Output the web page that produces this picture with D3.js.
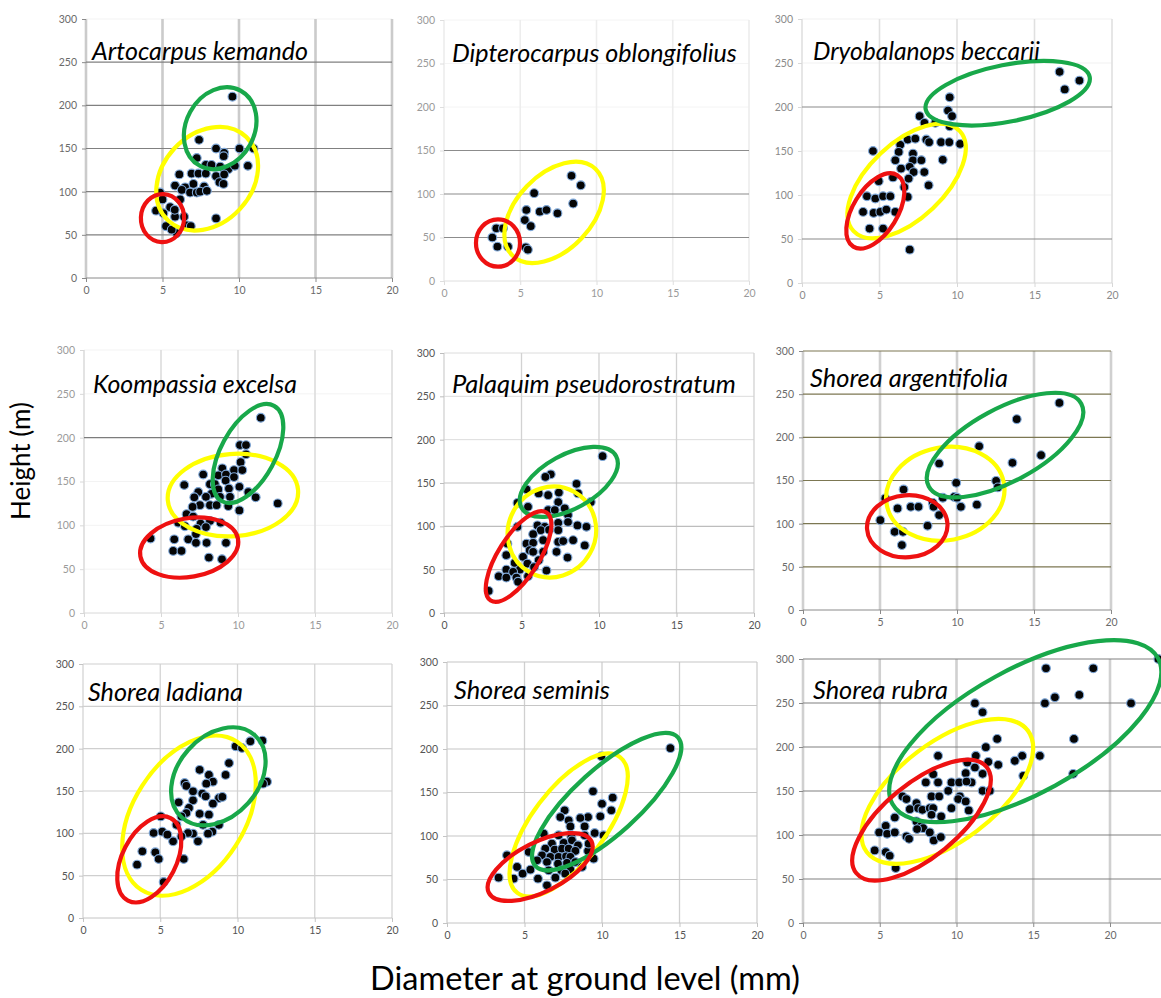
<!DOCTYPE html>
<html><head><meta charset="utf-8">
<script src="https://cdn.jsdelivr.net/npm/d3@7"></script>
<style>body{margin:0;background:#fff}svg{display:block}</style>
</head><body><svg id="c" width="1161" height="998"></svg>
<script>
// ---------- DATA ----------
const xTicks = [0, 5, 10, 15, 20];
const yTicks = [0, 50, 100, 150, 200, 250, 300];
const speciesNames = ["Artocarpus kemando","Dipterocarpus oblongifolius","Dryobalanops beccarii",
  "Koompassia excelsa","Palaquim pseudorostratum","Shorea argentifolia",
  "Shorea ladiana","Shorea seminis","Shorea rubra"];
const yAxisLabel = "Height (m)";
const xAxisLabel = "Diameter at ground level (mm)";

// diameter (mm), height pairs per species
const artocarpus = [[9.57,210],[7.39,160],[8.5,150],[10.03,150],[10.95,150],[9.03,145],[9.0,141],[7.24,139],[7.83,131],[8.2,131],[8.77,129],[9.3,126],[9.73,130],[10.58,130],[6.1,120],[6.9,121],[7.35,121],[7.83,121],[8.5,118],[9.03,120],[8.72,111],[8.99,109],[7.02,109],[5.82,107],[6.48,105],[7.72,106],[6.26,102],[6.8,99],[7.24,99],[7.46,100],[7.9,101],[4.84,99],[5.0,91],[6.15,91],[4.58,78],[5.5,82],[5.82,71],[6.41,71],[8.5,69],[5.23,60],[6.59,61],[6.85,60],[5.93,52],[5.6,56],[5.06,75],[5.8,79]];
const dipterocarpus = [[8.36,121],[8.97,110],[5.91,101],[5.4,81.6],[6.28,79.7],[6.72,81.6],[7.44,77.8],[8.47,89],[5.3,70],[5.69,63],[3.43,60.5],[3.87,60.5],[3.17,50],[3.5,39.5],[4.2,39.5],[5.36,38.7],[5.5,36]];
const dryobalanops = [[16.62,240],[17.9,230],[16.95,220],[9.53,211],[9.42,196],[9.68,189.6],[7.59,189.6],[7.9,182],[8.6,182],[9.53,178],[6.82,163],[7.31,164],[8.02,163],[8.2,160],[8.97,160],[9.5,160],[10.2,158],[6.34,157],[6.24,149],[7.16,147],[4.58,150],[7.16,139.5],[7.7,139.5],[6.02,139.5],[9.08,140],[6.39,130],[6.95,132],[7.2,126],[7.89,126],[6.88,118.7],[5.87,120],[4.95,115.7],[8.17,111],[6.6,109],[4.19,98.6],[4.73,96],[5.23,98.6],[5.7,98.6],[6.82,97.8],[3.94,80.8],[4.62,79.6],[5.05,80.8],[5.44,83.4],[6.02,80.8],[4.36,61.8],[5.23,61.8],[6.95,37.9]];
const koompassia = [[11.48,222.7],[10.13,191.5],[10.52,191.5],[10.52,181],[10.17,172],[9.74,163],[10.28,163],[8.98,165],[7.74,158],[8.72,157],[9.22,158],[9.74,155],[9.2,151],[8.18,147],[8.5,147],[8.72,141],[10.09,144],[6.51,146],[9.41,142],[7.42,138],[8.28,136],[10.67,138],[7.16,132],[7.92,132.5],[8.83,132.5],[9.48,132.5],[11.15,132],[12.58,125],[7.53,123],[8.18,123],[8.61,123],[9.37,122],[10.09,117],[7.05,121],[6.66,112.7],[7.09,110],[6.12,103],[6.55,99],[7.57,102],[8.18,105],[8.87,103],[7.31,96],[7.92,98],[4.32,85],[5.86,84],[6.77,84],[7.27,90],[7.27,80],[7.96,80],[9.22,80],[5.79,70.8],[6.33,70.8],[8.11,63.2],[8.96,61.3]];
const palaquim = [[10.23,181],[6.89,160],[6.54,157],[8.55,149],[8.65,138],[9.47,128],[5.32,142.7],[6.11,138],[6.72,136],[7.41,139],[7.37,128],[4.74,127],[5.42,122.6],[6.72,118.8],[7.15,118.8],[7.79,120.7],[8.0,113],[8.0,105],[8.61,101],[9.19,99.5],[7.37,104],[7.37,95.6],[6.03,101],[6.5,99.5],[6.24,95.6],[4.74,99.5],[5.75,91],[6.4,84],[7.37,82],[7.69,83],[8.33,84],[9.08,78],[5.32,80],[5.75,81],[4.09,80],[5.53,72.5],[5.75,70.6],[6.4,70.6],[7.26,70.6],[7.97,64],[4.02,66.7],[5.1,64.8],[6.11,61],[4.56,57.8],[5.38,57],[5.81,53],[4.02,50],[4.89,50],[4.46,47.4],[3.53,42.4],[4.02,40.9],[4.67,40.9],[5.42,42.4],[4.78,36],[2.88,25.5],[6.61,49],[6.78,96]];
const argentifolia = [[16.65,239.9],[13.88,221],[11.44,189.7],[15.46,179.3],[13.6,170.5],[8.84,169.7],[9.95,147.3],[12.54,149.6],[12.65,142],[6.53,139.6],[5.34,129.2],[9.08,130],[9.82,131],[10.0,130],[11.29,122],[10.25,119.6],[8.43,124],[8.48,119.6],[7.0,119.6],[7.5,119.6],[6.14,117.6],[8.84,110],[5.02,104],[8.09,97.6],[5.95,90.6],[6.49,90.6],[6.42,75.2]];
const ladiana = [[11.61,209.4],[10.83,208.7],[9.88,202.8],[10.29,200.8],[9.45,183],[7.55,175],[8.15,169],[9.23,169],[8.41,161],[7.98,158.7],[6.58,159.4],[6.69,156],[11.91,161],[11.65,158.7],[7.12,149.6],[7.72,146.9],[7.94,143.7],[8.8,141.7],[9.02,143],[6.19,136.6],[7.12,139],[8.41,135],[6.86,130],[6.69,124],[7.55,123],[8.15,122],[6.37,120],[7.77,110],[6.05,110],[8.8,110],[8.37,102],[8.09,99.6],[7.12,99.6],[6.79,100.4],[6.37,96.5],[5.83,90.6],[7.44,90.6],[5.03,120],[5.13,102],[4.57,100.4],[5.46,98.4],[3.84,78.7],[4.68,77.6],[4.9,69.7],[3.5,63],[6.52,69.7],[5.22,42.5]];
const seminis = [[14.41,201],[9.96,191.6],[9.42,151.3],[10.69,144],[10.0,137],[10.6,129.5],[7.59,129.5],[9.89,122.6],[9.1,121.8],[7.31,121.8],[8.6,120.7],[7.85,118],[8.88,111],[7.96,111],[9.53,103.4],[10.1,100.8],[6.24,102.7],[7.2,100.8],[8.02,98.9],[8.88,100.8],[6.77,91.2],[7.53,92],[8.06,95],[8.45,89.3],[6.34,85.4],[6.95,84.3],[7.42,85.4],[7.85,85.4],[8.28,82.8],[9.1,82.8],[5.27,81.6],[3.87,77.8],[6.13,77.8],[6.67,75.9],[7.2,75.9],[7.68,76.6],[7.96,75.9],[9.46,73.9],[5.81,72],[6.45,70.1],[7.16,68.2],[7.74,69],[8.28,70.1],[4.52,64.4],[4.88,56.7],[5.38,61.3],[6.56,60.5],[7.38,60.5],[7.96,61.3],[4.3,51],[5.87,51],[6.99,52.1],[3.33,52.1],[6.45,43.3],[7.63,56.7],[8.71,64.4],[9.14,91.2]];
const rubra = [[23.15,300],[15.83,289.4],[18.91,289.4],[16.41,256.5],[18.0,259.2],[15.76,249.7],[21.37,249.7],[11.2,249.7],[11.7,239.5],[17.65,209.2],[12.65,209.2],[11.91,199.8],[8.8,190],[11.26,190],[14.28,190],[15.43,190],[13.8,184.3],[12.07,183.1],[10.7,182.4],[12.72,179.7],[11.2,176.7],[17.6,169.5],[14.35,167.2],[11.7,169.5],[8.48,169.1],[10.6,170.3],[8.0,159.7],[8.8,159.7],[9.67,159.7],[10.17,159.7],[10.98,159.7],[10.65,160.8],[11.7,150.2],[12.17,150.2],[9.46,150.2],[6.48,143.8],[6.74,140.8],[8.37,143.8],[8.87,143.8],[10.22,143.8],[10.11,140.8],[10.6,138.1],[7.39,136.2],[6.96,129.4],[7.5,130.5],[7.78,128.6],[8.26,130.5],[8.48,130.5],[9.67,130.5],[10.8,127.9],[9.0,121.1],[8.37,123],[5.98,119.9],[7.39,115.4],[7.67,109.7],[7.83,107.8],[7.43,106.7],[5.39,110.5],[4.96,102.9],[5.48,101.4],[5.98,102.9],[6.74,98.4],[6.91,95.7],[8.26,102.9],[8.52,93.8],[8.98,97.6],[4.67,82.5],[5.39,80.6],[5.65,76.4],[6.04,62.4]];

// size-class ellipses: centre [d,h], end of major axis [d,h], minor/major ratio
const artocarpusClasses = [{cls:"small",c:[5.0,69.4],tip:[5.06,97.2],ratio:0.9},{cls:"medium",c:[7.92,115],tip:[10.47,163.5],ratio:0.78},{cls:"large",c:[8.77,173.5],tip:[10.1,217],ratio:0.8}];
const dipterocarpusClasses = [{cls:"small",c:[3.54,43.7],tip:[3.54,70.9],ratio:0.93},{cls:"medium",c:[7.22,78.9],tip:[9.94,128.7],ratio:0.63}];
const dryobalanopsClasses = [{cls:"small",c:[4.73,81.9],tip:[6.15,122.5],ratio:0.53},{cls:"medium",c:[6.75,115.9],tip:[10.17,172.9],ratio:0.52},{cls:"large",c:[13.27,215.7],tip:[18.56,234.2],ratio:0.34}];
const koompassiaClasses = [{cls:"small",c:[6.83,74.6],tip:[10.0,84.5],ratio:0.59},{cls:"medium",c:[9.67,134.5],tip:[13.9,140.2],ratio:0.63},{cls:"large",c:[10.65,181.9],tip:[12.34,236.3],ratio:0.5}];
const palaquimClasses = [{cls:"small",c:[4.81,65.2],tip:[6.61,116],ratio:0.39},{cls:"medium",c:[6.96,93.5],tip:[8.41,139.8],ratio:0.95},{cls:"large",c:[8.05,151.3],tip:[11.1,181.1],ratio:0.5}];
const argentifoliaClasses = [{cls:"small",c:[6.77,97],tip:[9.38,100.3],ratio:0.77},{cls:"medium",c:[9.24,134.6],tip:[13.04,147.5],ratio:0.78},{cls:"large",c:[13.12,191],tip:[18.07,238.9],ratio:0.42}];
const ladianaClasses = [{cls:"small",c:[4.29,69.3],tip:[5.67,118],ratio:0.58},{cls:"medium",c:[6.86,120.9],tip:[9.95,208.5],ratio:0.63},{cls:"large",c:[8.76,167.3],tip:[11.12,215.9],ratio:0.73}];
const seminisClasses = [{cls:"small",c:[6.01,64.4],tip:[9.32,94],ratio:0.43},{cls:"medium",c:[7.85,112.6],tip:[11.16,190.6],ratio:0.43},{cls:"large",c:[10.3,139.5],tip:[14.9,213.4],ratio:0.34}];
const rubraClasses = [{cls:"small",c:[7.72,116.9],tip:[11.96,177.3],ratio:0.44},{cls:"medium",c:[9.4,149.6],tip:[14.65,218.6],ratio:0.49},{cls:"large",c:[14.48,218],tip:[23.13,300.9],ratio:0.41}];

const pointSets = [artocarpus,dipterocarpus,dryobalanops,koompassia,palaquim,argentifolia,ladiana,seminis,rubra];
const classSets = [artocarpusClasses,dipterocarpusClasses,dryobalanopsClasses,koompassiaClasses,palaquimClasses,argentifoliaClasses,ladianaClasses,seminisClasses,rubraClasses];

// ---------- LAYOUT / STYLE ----------
const classColor = {small:"#ee1111", medium:"#ffff00", large:"#18a84a"};
const panels = [
 {x0:86,x20:392,y0:278,y300:19,xMax:20,tx:92,ty:60,tw:216,vg:"#cbcbcb",vw:2.6,hg:"#808080",hv:[50,100,150,200,250],hf:"#f3f3f3",ax:"#8a8a8a",lc:"#6a6a6a"},
 {x0:444,x20:749,y0:281,y300:20,xMax:20,tx:452,ty:62,tw:285,vg:"#ededed",vw:1.6,hg:"#8c8c8c",hv:[50,100,150],hf:"#f4f4f4",ax:"#dedede",lc:"#9a9a9a"},
 {x0:802,x20:1112,y0:283,y300:19,xMax:20,tx:813,ty:60,tw:227,vg:"#e0e0e0",vw:1.6,hg:"#8a8a8a",hv:[50,200],hf:"#f1f1f1",ax:"#d8d8d8",lc:"#8a8a8a"},
 {x0:84,x20:392,y0:613,y300:350,xMax:20,tx:93,ty:393,tw:204,vg:"#dcdcdc",vw:1.6,hg:"#7c7c7c",hv:[200],hf:"#f3f3f3",ax:"#d8d8d8",lc:"#9a9a9a"},
 {x0:444,x20:754,y0:613,y300:353,xMax:20,tx:452,ty:393,tw:284,vg:"#d2d2d2",vw:1.3,hg:"#bdbdbd",hv:[50,100,150],hf:"#dcdcdc",ax:"#bdbdbd",lc:"#555555"},
 {x0:803,x20:1111,y0:610,y300:351,xMax:20,tx:810,ty:387,tw:198,vg:"#d0d0d0",vw:2.6,hg:"#7c7752",hv:[50,100,150,200,250,300],hf:"#7c7752",ax:"#8a8a8a",lc:"#6a6a6a"},
 {x0:83,x20:392,y0:918,y300:664,xMax:20,tx:88,ty:701,tw:155,vg:"#d4d4d4",vw:1.3,hg:"#cfcfcf",hv:[50,100,150,200,250,300],hf:"#cfcfcf",ax:"#c4c4c4",lc:"#555555"},
 {x0:447,x20:757,y0:923,y300:662,xMax:20,tx:454,ty:699,tw:156,vg:"#d0d0d0",vw:1.3,hg:"#c6c6c6",hv:[50,100,150,200,250,300],hf:"#c6c6c6",ax:"#c4c4c4",lc:"#555555"},
 {x0:803,x20:1110,y0:923,y300:659,xMax:25,tx:813,ty:699,tw:135,vg:"#d0d0d0",vw:2.6,hg:"#808080",hv:[50,100,150,200,250,300],hf:"#808080",ax:"#8a8a8a",lc:"#6a6a6a"}
];

const svg = d3.select("#c");
const FONT = "Lato, 'Open Sans', sans-serif";

function fitText(sel, width, base) {
  const w = sel.node().getComputedTextLength();
  if (w > 0) sel.attr("font-size", base * width / w);
}

panels.forEach((p, i) => {
  const x = d3.scaleLinear().domain([0, 20]).range([p.x0, p.x20]);
  const y = d3.scaleLinear().domain([0, 300]).range([p.y0, p.y300]);
  const xEnd = x(p.xMax);
  const g = svg.append("g");

  // faint horizontal grid
  g.selectAll(".hf").data(yTicks.filter(t => t > 0 && !p.hv.includes(t)))
    .join("line").attr("x1", p.x0).attr("x2", Math.min(xEnd, 1161))
    .attr("y1", d => y(d)).attr("y2", d => y(d)).attr("stroke", p.hf).attr("stroke-width", 1);
  // vertical grid
  const vt = d3.range(0, p.xMax + 0.1, 5);
  g.selectAll(".vg").data(vt).join("line")
    .attr("x1", d => x(d)).attr("x2", d => x(d))
    .attr("y1", y(300)).attr("y2", y(0)).attr("stroke", p.vg).attr("stroke-width", p.vw);
  // main horizontal grid
  g.selectAll(".hg").data(p.hv).join("line")
    .attr("x1", p.x0).attr("x2", Math.min(xEnd, 1161))
    .attr("y1", d => y(d)).attr("y2", d => y(d)).attr("stroke", p.hg).attr("stroke-width", 1.1);

  // axes
  const xAxis = d3.axisBottom(x).tickValues(vt.filter(v => v <= 20)).tickSize(4).tickPadding(5);
  const gx = g.append("g").attr("transform", `translate(0,${p.y0})`).call(xAxis);
  gx.select(".domain").attr("d", `M${p.x0},0H${Math.min(xEnd, 1161)}`).attr("stroke", p.ax);
  gx.selectAll(".tick line").attr("stroke", p.ax);
  gx.selectAll("text").attr("fill", p.lc).attr("font-size", 10.5).attr("font-family", FONT);

  const yAxis = d3.axisLeft(y).tickValues(yTicks).tickSize(4).tickPadding(5);
  const gy = g.append("g").attr("transform", `translate(${p.x0},0)`).call(yAxis);
  gy.select(".domain").attr("stroke", "none");
  gy.selectAll(".tick line").attr("stroke", p.ax);
  gy.selectAll("text").attr("fill", p.lc).attr("font-size", 10.5).attr("font-family", FONT);

  // points
  g.selectAll(".pt").data(pointSets[i]).join("circle")
    .attr("cx", d => x(d[0])).attr("cy", d => y(d[1])).attr("r", 4.4)
    .attr("fill", "#050505").attr("stroke", "#7ea7d8").attr("stroke-width", 1.1);

  // size-class ellipses
  const order = {medium: 0, large: 1, small: 2};
  const cls = classSets[i].slice().sort((a, b) => order[a.cls] - order[b.cls]);
  g.selectAll(".el").data(cls).join("ellipse")
    .each(function (d) {
      const cx = x(d.c[0]), cy = y(d.c[1]);
      const tx = x(d.tip[0]), ty = y(d.tip[1]);
      const a = Math.hypot(tx - cx, ty - cy);
      const ang = Math.atan2(ty - cy, tx - cx) * 180 / Math.PI;
      d3.select(this).attr("rx", a).attr("ry", a * d.ratio)
        .attr("transform", `translate(${cx},${cy}) rotate(${ang})`);
    })
    .attr("fill", "none").attr("stroke", d => classColor[d.cls]).attr("stroke-width", 4.2);

  // title
  const t = g.append("text").attr("x", p.tx).attr("y", p.ty).text(speciesNames[i])
    .attr("font-family", FONT).attr("font-style", "italic").attr("font-size", 22).attr("fill", "#000");
  fitText(t, p.tw, 22);
});

// shared axis titles
const yl = svg.append("text").attr("transform", "translate(30,461) rotate(-90)")
  .attr("text-anchor", "middle").attr("font-family", FONT).attr("font-size", 22).text(yAxisLabel);
fitText(yl, 118, 22);
const xl = svg.append("text").attr("x", 585).attr("y", 990)
  .attr("text-anchor", "middle").attr("font-family", FONT).attr("font-size", 26).text(xAxisLabel);
fitText(xl, 430, 26);
</script></body></html>
